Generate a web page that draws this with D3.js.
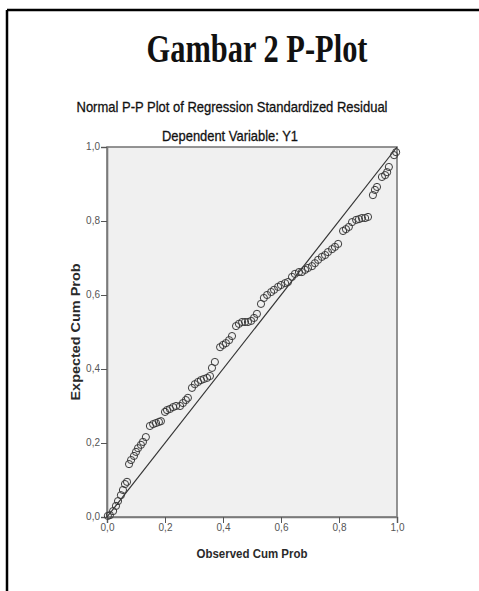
<!DOCTYPE html>
<html>
<head>
<meta charset="utf-8">
<script src="https://cdn.jsdelivr.net/npm/d3@7.9.0/dist/d3.min.js"></script>
<style>
  body { margin: 0; background: #fff; }
  svg { display: block; }
</style>
</head>
<body>
<svg id="chart" width="479" height="591"></svg>
<script>
// Observed cumulative probability (x) for each residual
const observed = [
  0.003, 0.010, 0.021, 0.031, 0.038, 0.048, 0.055, 0.062, 0.069, 0.076,
  0.083, 0.093, 0.100, 0.107, 0.117, 0.124, 0.134, 0.148, 0.159, 0.169,
  0.179, 0.186, 0.200, 0.207, 0.217, 0.228, 0.238, 0.252, 0.262, 0.272,
  0.279, 0.293, 0.303, 0.314, 0.324, 0.334, 0.345, 0.355, 0.362, 0.372,
  0.390, 0.400, 0.410, 0.421, 0.431, 0.445, 0.455, 0.466, 0.476, 0.486,
  0.497, 0.507, 0.517, 0.531, 0.541, 0.552, 0.566, 0.576, 0.590, 0.600,
  0.614, 0.624, 0.638, 0.648, 0.662, 0.672, 0.683, 0.693, 0.707, 0.717,
  0.728, 0.741, 0.752, 0.762, 0.776, 0.786, 0.797, 0.814, 0.824, 0.834,
  0.845, 0.859, 0.869, 0.879, 0.890, 0.900, 0.917, 0.924, 0.931, 0.948,
  0.959, 0.966, 0.972, 0.990, 0.997
];

// Expected cumulative probability (y)
const expected = [
  0.003, 0.005, 0.016, 0.030, 0.043, 0.059, 0.073, 0.089, 0.095, 0.143,
  0.154, 0.165, 0.176, 0.186, 0.195, 0.203, 0.216, 0.246, 0.251, 0.254,
  0.257, 0.259, 0.284, 0.289, 0.292, 0.297, 0.300, 0.300, 0.308, 0.316,
  0.322, 0.349, 0.359, 0.365, 0.370, 0.373, 0.376, 0.381, 0.403, 0.419,
  0.459, 0.465, 0.470, 0.478, 0.489, 0.516, 0.522, 0.527, 0.527, 0.527,
  0.530, 0.538, 0.549, 0.576, 0.592, 0.600, 0.608, 0.614, 0.622, 0.627,
  0.632, 0.635, 0.649, 0.657, 0.662, 0.662, 0.668, 0.673, 0.678, 0.686,
  0.695, 0.703, 0.708, 0.716, 0.724, 0.730, 0.738, 0.773, 0.778, 0.784,
  0.797, 0.803, 0.805, 0.808, 0.808, 0.811, 0.870, 0.884, 0.892, 0.919,
  0.924, 0.932, 0.946, 0.978, 0.986
];

const tickValues = [0, 0.2, 0.4, 0.6, 0.8, 1.0];
const tickLabels = ['0,0', '0,2', '0,4', '0,6', '0,8', '1,0'];

const svg = d3.select('#chart');

// Page frame (only top and left edges are visible)
svg.append('line').attr('x1', 7).attr('y1', 10).attr('x2', 479).attr('y2', 10)
  .attr('stroke', '#000').attr('stroke-width', 2.5);
svg.append('line').attr('x1', 7).attr('y1', 10).attr('x2', 7).attr('y2', 591)
  .attr('stroke', '#000').attr('stroke-width', 2.5);

// Titles
svg.append('text')
  .attr('x', 257).attr('y', 62)
  .attr('text-anchor', 'middle')
  .attr('font-family', '"Liberation Serif", "Times New Roman", serif')
  .attr('font-weight', 'bold')
  .attr('font-size', 40)
  .attr('textLength', 221).attr('lengthAdjust', 'spacingAndGlyphs')
  .attr('fill', '#111')
  .text('Gambar 2 P-Plot');

svg.append('text')
  .attr('x', 232).attr('y', 112)
  .attr('text-anchor', 'middle')
  .attr('font-family', '"Liberation Sans", Arial, sans-serif')
  .attr('font-size', 15)
  .attr('textLength', 311).attr('lengthAdjust', 'spacingAndGlyphs')
  .attr('fill', '#111')
  .attr('stroke', '#111').attr('stroke-width', 0.3)
  .text('Normal P-P Plot of Regression Standardized Residual');

svg.append('text')
  .attr('x', 230).attr('y', 141)
  .attr('text-anchor', 'middle')
  .attr('font-family', '"Liberation Sans", Arial, sans-serif')
  .attr('font-size', 15)
  .attr('textLength', 136).attr('lengthAdjust', 'spacingAndGlyphs')
  .attr('fill', '#111')
  .attr('stroke', '#111').attr('stroke-width', 0.3)
  .text('Dependent Variable: Y1');

// Plot area
const plotLeft = 107, plotRight = 397, plotTop = 147, plotBottom = 517;
const x = d3.scaleLinear().domain([0, 1]).range([plotLeft, plotRight]);
const y = d3.scaleLinear().domain([0, 1]).range([plotBottom, plotTop]);

svg.append('rect')
  .attr('x', plotLeft).attr('y', plotTop)
  .attr('width', plotRight - plotLeft).attr('height', plotBottom - plotTop)
  .attr('fill', '#f0f0f0')
  .attr('stroke', '#7a7a7a').attr('stroke-width', 1.6);

// Axes
const xAxis = svg.append('g')
  .attr('transform', `translate(0,${plotBottom})`)
  .call(d3.axisBottom(x).tickValues(tickValues).tickSize(6)
    .tickFormat((d, i) => tickLabels[i]));
const yAxis = svg.append('g')
  .attr('transform', `translate(${plotLeft},0)`)
  .call(d3.axisLeft(y).tickValues(tickValues).tickSize(6)
    .tickFormat((d, i) => tickLabels[i]));

[xAxis, yAxis].forEach(g => {
  g.select('.domain').attr('stroke', '#7a7a7a').attr('stroke-width', 1.6);
  g.selectAll('.tick line').attr('stroke', '#555');
  g.selectAll('.tick text')
    .attr('font-family', '"Liberation Sans", Arial, sans-serif')
    .attr('font-size', 10)
    .attr('fill', '#555');
});
xAxis.selectAll('.tick text').attr('dy', '0.5em');
yAxis.selectAll('.tick text').attr('x', -7).attr('dy', '0.2em');

// Axis titles
svg.append('text')
  .attr('x', 252).attr('y', 558)
  .attr('text-anchor', 'middle')
  .attr('font-family', '"Liberation Sans", Arial, sans-serif')
  .attr('font-weight', 'bold')
  .attr('font-size', 13)
  .attr('textLength', 111).attr('lengthAdjust', 'spacingAndGlyphs')
  .attr('fill', '#2a2a2a')
  .text('Observed Cum Prob');

svg.append('text')
  .attr('transform', 'translate(80,332) rotate(-90)')
  .attr('text-anchor', 'middle')
  .attr('font-family', '"Liberation Sans", Arial, sans-serif')
  .attr('font-weight', 'bold')
  .attr('font-size', 13)
  .attr('textLength', 137).attr('lengthAdjust', 'spacingAndGlyphs')
  .attr('fill', '#2a2a2a')
  .text('Expected Cum Prob');

// Reference diagonal
svg.append('line')
  .attr('x1', x(0)).attr('y1', y(0))
  .attr('x2', x(1)).attr('y2', y(1))
  .attr('stroke', '#333').attr('stroke-width', 1.2);

// Residual points
const points = observed.map((o, i) => ({ o, e: expected[i] }));
svg.append('g')
  .selectAll('circle')
  .data(points)
  .join('circle')
  .attr('cx', d => x(d.o))
  .attr('cy', d => y(d.e))
  .attr('r', 3.6)
  .attr('fill', 'none')
  .attr('stroke', '#3a3a3a')
  .attr('stroke-width', 1);
</script>
</body>
</html>
